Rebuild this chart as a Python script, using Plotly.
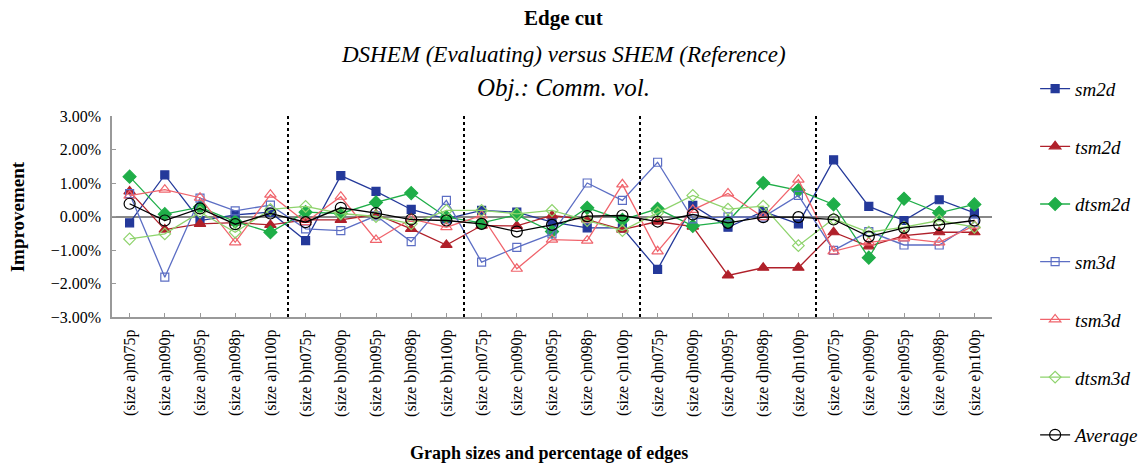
import plotly.graph_objects as go

categories = [
    "(size a)n075p", "(size a)n090p", "(size a)n095p", "(size a)n098p", "(size a)n100p",
    "(size b)n075p", "(size b)n090p", "(size b)n095p", "(size b)n098p", "(size b)n100p",
    "(size c)n075p", "(size c)n090p", "(size c)n095p", "(size c)n098p", "(size c)n100p",
    "(size d)n075p", "(size d)n090p", "(size d)n095p", "(size d)n098p", "(size d)n100p",
    "(size e)n075p", "(size e)n090p", "(size e)n095p", "(size e)n098p", "(size e)n100p",
]

sm2d = [-0.19, 1.24, -0.12, 0.05, 0.13, -0.72, 1.22, 0.75, 0.21, -0.07,
        0.18, 0.13, -0.17, -0.34, -0.34, -1.58, 0.33, -0.32, 0.15, -0.22,
        1.69, 0.30, -0.12, 0.50, 0.11]
tsm2d = [0.75, -0.39, -0.22, -0.18, -0.25, -0.10, -0.10, 0.06, -0.37, -0.85,
         -0.27, -0.28, 0.03, -0.09, -0.39, -0.15, -0.30, -1.76, -1.53, -1.53,
         -0.47, -0.89, -0.57, -0.47, -0.47]
dtsm2d = [1.19, 0.07, 0.28, -0.15, -0.47, 0.13, 0.09, 0.42, 0.70, -0.02,
          -0.19, 0.05, -0.45, 0.26, -0.10, 0.23, -0.28, -0.15, 1.00, 0.78,
          0.36, -1.23, 0.53, 0.11, 0.36]
sm3d = [0.68, -1.81, 0.55, 0.17, 0.34, -0.37, -0.42, 0.02, -0.75, 0.48,
        -1.36, -0.92, -0.52, 1.00, 0.48, 1.62, -0.07, -0.01, -0.02, 0.63,
        -1.01, -0.45, -0.85, -0.85, -0.17]
tsm3d = [0.62, 0.80, 0.56, -0.77, 0.65, -0.17, 0.59, -0.70, -0.07, -0.32,
         0.03, -1.56, -0.69, -0.72, 0.96, -1.04, 0.20, 0.69, -0.02, 1.10,
         -1.04, -0.77, -0.65, -0.77, -0.27]
dtsm3d = [-0.67, -0.52, 0.13, -0.47, 0.21, 0.30, 0.09, 0.00, -0.22, 0.18,
          0.18, 0.08, 0.18, -0.12, -0.42, 0.11, 0.63, 0.22, 0.31, -0.87,
          -0.07, -0.47, -0.32, -0.12, -0.32]
average = [0.38, -0.12, 0.24, -0.23, 0.09, -0.17, 0.26, 0.10, -0.09, -0.12,
           -0.22, -0.45, -0.25, 0.01, 0.03, -0.15, 0.06, -0.19, -0.02, -0.02,
           -0.09, -0.60, -0.34, -0.25, -0.12]

group_size = 5
y_ticks = [3, 2, 1, 0, -1, -2, -3]
y_tick_labels = [("\u2212" if v < 0 else "") + "%.2f%%" % abs(v) for v in y_ticks]

SERIF = "Liberation Serif, Times New Roman, serif"

series = [
    ("sm2d", sm2d, "#24399a", "square", 8),
    ("tsm2d", tsm2d, "#b0202a", "triangle-up", 10),
    ("dtsm2d", dtsm2d, "#1fae48", "diamond", 10),
    ("sm3d", sm3d, "#5c6ec4", "square-open", 8),
    ("tsm3d", tsm3d, "#f0646c", "triangle-up-open", 10),
    ("dtsm3d", dtsm3d, "#8ed36c", "diamond-open", 9),
    ("Average", average, "#000000", "circle-open", 11),
]

fig = go.Figure()
for name, vals, color, sym, size in series:
    fig.add_trace(go.Scatter(
        x=categories, y=vals, name="<i>" + name + "</i>",
        mode="lines+markers", legendgroup=name,
        line=dict(color=color, width=1.3),
        marker=dict(symbol=sym, size=size, color=color,
                    line=dict(color=color, width=1.2)),
    ))

# dashed separators between size groups
for k in range(1, len(categories) // group_size):
    fig.add_shape(type="line", xref="x", yref="paper",
                  x0=k * group_size - 0.5, x1=k * group_size - 0.5, y0=0, y1=1,
                  line=dict(color="black", width=2, dash="dot"))

fig.update_layout(
    width=1138, height=468,
    margin=dict(l=112, r=146, t=116, b=151, autoexpand=False),
    paper_bgcolor="white", plot_bgcolor="white",
    font=dict(family=SERIF, color="black", size=16),
    showlegend=True,
    legend=dict(x=1.049, y=1.23, xanchor="left", yanchor="top",
                font=dict(family=SERIF, size=19), tracegroupgap=30,
                itemwidth=30, maxheight=466, bgcolor="rgba(0,0,0,0)"),
    xaxis=dict(type="category", range=[-0.5, len(categories) - 0.5],
               tickangle=-90, tickfont=dict(size=16, family=SERIF),
               showline=True, linecolor="#999999", linewidth=2,
               ticks="inside", ticklen=4, tickcolor="#999999",
               showgrid=False, zeroline=False, ticklabelstandoff=4),
    yaxis=dict(range=[-3, 3], tickmode="array", tickvals=y_ticks, ticktext=y_tick_labels,
               tickfont=dict(size=16, family=SERIF),
               showline=True, linecolor="#999999", linewidth=1.5,
               ticks="inside", ticklen=4, tickcolor="#999999",
               showgrid=False, zeroline=True, zerolinecolor="#888888", zerolinewidth=1.5,
               ticklabelstandoff=6),
    annotations=[
        dict(text="<b>Edge cut</b>", xref="paper", yref="paper", x=0.5125, y=1.49,
             xanchor="center", yanchor="middle", showarrow=False, font=dict(size=21)),
        dict(text="<i>DSHEM (Evaluating) versus SHEM (Reference)</i>", xref="paper", yref="paper",
             x=0.5125, y=1.305, xanchor="center", yanchor="middle", showarrow=False,
             font=dict(size=23)),
        dict(text="<i>Obj.: Comm. vol.</i>", xref="paper", yref="paper", x=0.5125, y=1.14,
             xanchor="center", yanchor="middle", showarrow=False, font=dict(size=25)),
        dict(text="<b>Graph sizes and percentage of edges</b>", xref="paper", yref="paper",
             x=0.497, y=-0.675, xanchor="center", yanchor="middle", showarrow=False,
             font=dict(size=18)),
        dict(text="<b>Improvement</b>", xref="paper", yref="paper", x=-0.107, y=0.5,
             xanchor="center", yanchor="middle", showarrow=False, textangle=-90,
             font=dict(size=19)),
    ],
)

fig.write_html("out.html", config={"displayModeBar": False},
               post_script="document.body.style.margin='0';")
